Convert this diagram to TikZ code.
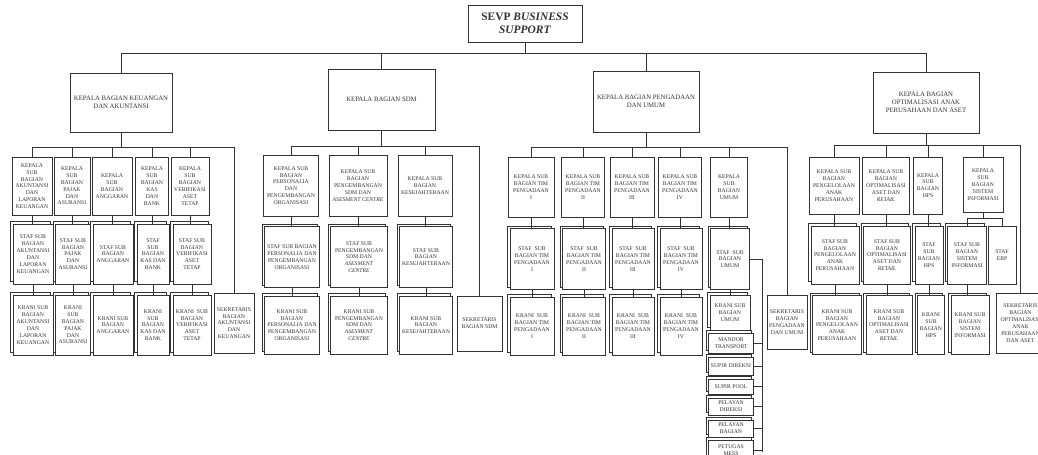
\documentclass[tikz,border=0pt]{standalone}
\usepackage{fontspec}
\setmainfont{Liberation Serif}
\usetikzlibrary{shadows}

\tikzset{
  box/.style={draw, fill=white, align=center, inner sep=0.5pt, line width=0.5pt,
    font=\fontsize{3.25}{3.9}\selectfont},
  stack/.style={box, copy shadow={shadow xshift=-1.2pt, shadow yshift=1.2pt,
    draw=black!80, line width=0.5pt}},
  head/.style={box, font=\fontsize{3.85}{4.4}\selectfont},
  title/.style={box, font=\fontsize{6.5}{7.4}\selectfont\bfseries},
  sz/.style 2 args={minimum width=#1*0.02cm, minimum height=#2*0.02cm}
}

\begin{document}
\begin{tikzpicture}[x=0.02cm, y=-0.02cm, line width=0.5pt, color=black!80]

\useasboundingbox (0,0) rectangle (1038,454);
\clip (0,0) rectangle (1038,454);

% top
\node[title, sz={114}{37}] (SEVP) at (525,23.5) {SEVP \textit{BUSINESS}\\\textit{SUPPORT}};

\node[head, sz={102}{59}] (D1) at (121,102.5) {KEPALA BAGIAN KEUANGAN\\DAN AKUNTANSI};
\node[head, sz={107}{61}] (D2) at (381.5,99.5) {KEPALA BAGIAN SDM};
\node[head, sz={106}{61}] (D3) at (646,101.5) {KEPALA BAGIAN PENGADAAN\\DAN UMUM};
\node[head, sz={106}{61}] (D4) at (926,102.5) {KEPALA BAGIAN\\OPTIMALISASI ANAK\\PERUSAHAAN DAN ASET};

\coordinate (T) at (525,53);
\coordinate (B1) at (121,147);
\coordinate (B2) at (381.5,146);
\coordinate (B3) at (646,147);
\coordinate (B4) at (926,145);

% keuangan dan akuntansi
\node[box, sz={40}{58}] (K11) at (32,186) {KEPALA\\SUB\\BAGIAN\\AKUNTANSI\\DAN\\LAPORAN\\KEUANGAN};
\node[box, sz={36}{58}] (K12) at (72,186) {KEPALA\\SUB\\BAGIAN\\PAJAK\\DAN\\ASURANSI};
\node[box, sz={40}{58}] (K13) at (112,186) {KEPALA\\SUB\\BAGIAN\\ANGGARAN};
\node[box, sz={33}{58}] (K14) at (152,186) {KEPALA\\SUB\\BAGIAN\\KAS\\DAN\\BANK};
\node[box, sz={38}{58}] (K15) at (190,186) {KEPALA\\SUB\\BAGIAN\\VERIFIKASI\\ASET\\TETAP};

\node[stack, sz={40}{60}] (S11) at (33,254) {STAF SUB\\BAGIAN\\AKUNTANSI\\DAN\\LAPORAN\\KEUANGAN};
\node[stack, sz={35}{60}] (S12) at (73,254) {STAF SUB\\BAGIAN\\PAJAK\\DAN\\ASURANSI};
\node[stack, sz={40}{60}] (S13) at (113,254) {STAF SUB\\BAGIAN\\ANGGARAN};
\node[stack, sz={32}{60}] (S14) at (153,254) {STAF\\SUB\\BAGIAN\\KAS DAN\\BANK};
\node[stack, sz={38}{60}] (S15) at (192,254) {STAF SUB\\BAGIAN\\VERIFIKASI\\ASET\\TETAP};

\node[stack, sz={40}{60}] (R11) at (33,325) {KRANI SUB\\BAGIAN\\AKUNTANSI\\DAN\\LAPORAN\\KEUANGAN};
\node[stack, sz={35}{60}] (R12) at (73,325) {KRANI\\SUB\\BAGIAN\\PAJAK\\DAN\\ASURANSI};
\node[stack, sz={40}{60}] (R13) at (113,325) {KRANI SUB\\BAGIAN\\ANGGARAN};
\node[stack, sz={32}{60}] (R14) at (153,325) {KRANI\\SUB\\BAGIAN\\KAS DAN\\BANK};
\node[stack, sz={38}{60}] (R15) at (192,325) {KRANI\enspace SUB\\BAGIAN\\VERIFIKASI\\ASET\\TETAP};
\node[box, sz={40}{60}] (E1) at (234,323) {SEKRETARIS\\BAGIAN\\AKUNTANSI\\DAN\\KEUANGAN};

% sdm
\node[box, sz={55}{61}] (K21) at (291,185.5) {KEPALA SUB\\BAGIAN\\PERSONALIA\\DAN\\PENGEMBANGAN\\ORGANISASI};
\node[box, sz={58}{61}] (K22) at (358,185.5) {KEPALA SUB\\BAGIAN\\PENGEMBANGAN\\SDM DAN\\\textit{ASESMENT CENTRE}};
\node[box, sz={54}{61}] (K23) at (425,185.5) {KEPALA SUB\\BAGIAN\\KESEJAHTERAAN};

\node[stack, sz={55}{61}] (S21) at (292,257) {STAF SUB BAGIAN\\PERSONALIA DAN\\PENGEMBANGAN\\ORGANISASI};
\node[stack, sz={57}{61}] (S22) at (359,257) {STAF SUB\\PENGEMBANGAN\\SDM DAN\\\textit{ASESMENT}\\\textit{CENTRE}};
\node[stack, sz={53}{61}] (S23) at (426,257) {STAF SUB\\BAGIAN\\KESEJAHTERAAN};

\node[stack, sz={55}{58}] (R21) at (292,325) {KRANI SUB\\BAGIAN\\PERSONALIA DAN\\PENGEMBANGAN\\ORGANISASI};
\node[stack, sz={57}{58}] (R22) at (359,325) {KRANI SUB\\PENGEMBANGAN\\SDM DAN\\\textit{ASESMENT}\\\textit{CENTRE}};
\node[stack, sz={53}{58}] (R23) at (426,325) {KRANI SUB\\BAGIAN\\KESEJAHTERAAN};
\node[box, sz={45}{55}] (E2) at (479.5,323.5) {SEKRETARIS\\BAGIAN SDM};

% pengadaan dan umum
\node[box, sz={46}{60}] (K31) at (531,187) {KEPALA SUB\\BAGIAN TIM\\PENGADAAN\\I};
\node[box, sz={43}{60}] (K32) at (583,187) {KEPALA SUB\\BAGIAN TIM\\PENGADAAN\\II};
\node[box, sz={44}{60}] (K33) at (632,187) {KEPALA SUB\\BAGIAN TIM\\PENGADAAN\\III};
\node[box, sz={43}{60}] (K34) at (680,187) {KEPALA SUB\\BAGIAN TIM\\PENGADAAN\\IV};
\node[box, sz={37}{60}] (K35) at (729,187) {KEPALA\\SUB\\BAGIAN\\UMUM};

\node[stack, sz={44}{61}] (S31) at (532,259) {STAF\enspace SUB\\BAGIAN TIM\\PENGADAAN\\I};
\node[stack, sz={43}{61}] (S32) at (584,259) {STAF\enspace SUB\\BAGIAN TIM\\PENGADAAN\\II};
\node[stack, sz={42}{61}] (S33) at (633,259) {STAF\enspace SUB\\BAGIAN TIM\\PENGADAAN\\III};
\node[stack, sz={42}{61}] (S34) at (681,259) {STAF\enspace SUB\\BAGIAN TIM\\PENGADAAN\\IV};
\node[stack, sz={39}{61}] (S35) at (730,259) {STAF\enspace SUB\\BAGIAN\\UMUM};

\node[stack, sz={44}{58}] (R31) at (532,326) {KRANI\enspace SUB\\BAGIAN TIM\\PENGADAAN\\I};
\node[stack, sz={43}{58}] (R32) at (584,326) {KRANI\enspace SUB\\BAGIAN TIM\\PENGADAAN\\II};
\node[stack, sz={42}{58}] (R33) at (633,326) {KRANI\enspace SUB\\BAGIAN TIM\\PENGADAAN\\III};
\node[stack, sz={42}{58}] (R34) at (681,326) {KRANI\enspace SUB\\BAGIAN TIM\\PENGADAAN\\IV};
\node[stack, sz={40}{35}] (R35) at (730,312.5) {KRANI SUB\\BAGIAN\\UMUM};

\node[stack, sz={45}{20}] (M1) at (731,343) {MANDOR\\TRANSPORT};
\node[stack, sz={45}{18}] (M2) at (731,366) {SUPIR DIREKSI};
\node[stack, sz={45}{15}] (M3) at (731,386.5) {SUPIR POOL};
\node[stack, sz={45}{17}] (M4) at (731,406.5) {PELAYAN\\DIREKSI};
\node[stack, sz={45}{17}] (M5) at (731,428.5) {PELAYAN\\BAGIAN};
\node[stack, sz={45}{20}] (M6) at (731,450) {PETUGAS\\MESS};
\node[box, sz={40}{54}] (E3) at (787,322) {SEKRETARIS\\BAGIAN\\PENGADAAN\\DAN UMUM};

\coordinate (U1) at (762,259);
\coordinate (U2) at (762,452);

% optimalisasi anak perusahaan dan aset
\node[box, sz={50}{57}] (K41) at (834,185.5) {KEPALA SUB\\BAGIAN\\PENGELOLAAN\\ANAK\\PERUSAHAAN};
\node[box, sz={47}{57}] (K42) at (886,185.5) {KEPALA SUB\\BAGIAN\\OPTIMALISASI\\ASET DAN\\\textit{RETAIL}};
\node[box, sz={29}{57}] (K43) at (928,185.5) {KEPALA\\SUB\\BAGIAN\\HPS};
\node[box, sz={40}{55}] (K44) at (983,184.5) {KEPALA\\SUB\\BAGIAN\\SISTEM\\INFORMASI};
\coordinate (B44) at (983,218);

\node[stack, sz={48}{58}] (S41) at (835,255) {STAF SUB\\BAGIAN\\PENGELOLAAN\\ANAK\\PERUSAHAAN};
\node[stack, sz={47}{58}] (S42) at (887,255) {STAF SUB\\BAGIAN\\OPTIMALISASI\\ASET DAN\\\textit{RETAIL}};
\node[stack, sz={28}{58}] (S43) at (929,255) {STAF\\SUB\\BAGIAN\\HPS};
\node[stack, sz={39}{58}] (S44) at (967,255) {STAF SUB\\BAGIAN\\SISTEM\\INFORMASI};
\node[box, sz={28}{58}] (F44) at (1002,255) {STAF\\ERP};

\node[stack, sz={49}{59}] (R41) at (837,325) {KRANI SUB\\BAGIAN\\PENGELOLAAN\\ANAK\\PERUSAHAAN};
\node[stack, sz={46}{59}] (R42) at (889,325) {KRANI SUB\\BAGIAN\\OPTIMALISASI\\ASET DAN\\\textit{RETAIL}};
\node[stack, sz={27}{59}] (R43) at (931,325) {KRANI\\SUB\\BAGIAN\\HPS};
\node[stack, sz={38}{59}] (R44) at (970,325) {KRANI SUB\\BAGIAN\\SISTEM\\INFORMASI};
\node[box, sz={49}{60}] (E4) at (1020.5,323) {SEKRETARIS\\BAGIAN\\OPTIMALISASI\\ANAK\\PERUSAHAAN\\DAN ASET};

% lines
\draw (SEVP) -- (T);
\draw (T) -| (D1);
\draw (T) -| (D2);
\draw (T) -| (D3);
\draw (T) -| (D4);

\draw (D1) -- (B1);
\draw (B1) -| (K11);
\draw (B1) -| (K12);
\draw (B1) -| (K13);
\draw (B1) -| (K14);
\draw (B1) -| (K15);
\draw (B1) -| (E1);
\draw (K11) -- (K11 |- S11.north);
\draw (K12) -- (K12 |- S12.north);
\draw (K13) -- (K13 |- S13.north);
\draw (K14) -- (K14 |- S14.north);
\draw (K15) -- (K15 |- S15.north);
\draw (S11) -- (S11 |- R11.north);
\draw (S12) -- (S12 |- R12.north);
\draw (S13) -- (S13 |- R13.north);
\draw (S14) -- (S14 |- R14.north);
\draw (S15) -- (S15 |- R15.north);

\draw (D2) -- (B2);
\draw (B2) -| (K21);
\draw (B2) -| (K22);
\draw (B2) -| (K23);
\draw (B2) -| (E2);
\draw (K21) -- (K21 |- S21.north);
\draw (K22) -- (K22 |- S22.north);
\draw (K23) -- (K23 |- S23.north);
\draw (S21) -- (S21 |- R21.north);
\draw (S22) -- (S22 |- R22.north);
\draw (S23) -- (S23 |- R23.north);

\draw (D3) -- (B3);
\draw (B3) -| (K31);
\draw (B3) -| (K32);
\draw (B3) -| (K33);
\draw (B3) -| (K34);
\draw (B3) -| (K35);
\draw (B3) -| (E3);
\draw (K31) -- (K31 |- S31.north);
\draw (K32) -- (K32 |- S32.north);
\draw (K33) -- (K33 |- S33.north);
\draw (K34) -- (K34 |- S34.north);
\draw (K35) -- (K35 |- S35.north);
\draw (S31) -- (S31 |- R31.north);
\draw (S32) -- (S32 |- R32.north);
\draw (S33) -- (S33 |- R33.north);
\draw (S34) -- (S34 |- R34.north);
\draw (S35) -- (S35 |- R35.north);
\draw (S35) -- (U1) -- (U2);
\draw (M1) -- (M1 -| U1);
\draw (M2) -- (M2 -| U1);
\draw (M3) -- (M3 -| U1);
\draw (M4) -- (M4 -| U1);
\draw (M5) -- (M5 -| U1);
\draw (M6) -- (M6 -| U1);

\draw (D4) -- (B4);
\draw (B4) -| (K41);
\draw (B4) -| (K42);
\draw (B4) -| (K43);
\draw (B4) -| (K44);
\draw (B4) -| (E4);
\draw (K41) -- (K41 |- S41.north);
\draw (K42) -- (K42 |- S42.north);
\draw (K43) -- (K43 |- S43.north);
\draw (K44) -- (B44);
\draw (B44) -| (S44);
\draw (B44) -| (F44);
\draw (S41) -- (S41 |- R41.north);
\draw (S42) -- (S42 |- R42.north);
\draw (S43) -- (S43 |- R43.north);
\draw (S44) -- (S44 |- R44.north);

\end{tikzpicture}
\end{document}
